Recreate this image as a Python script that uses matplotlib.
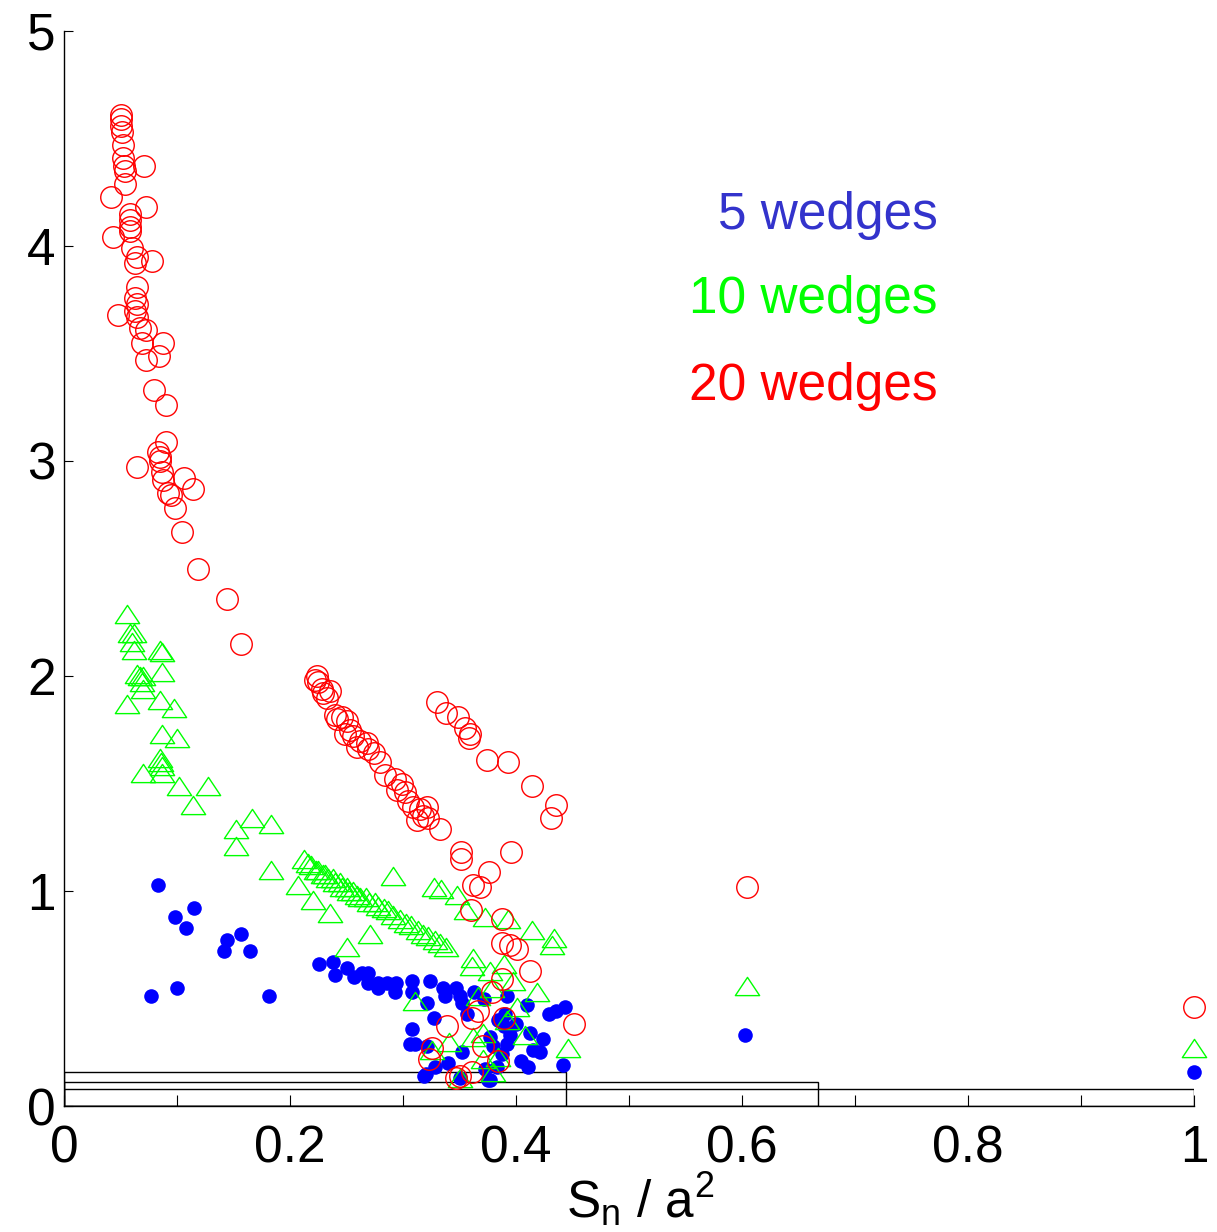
import numpy as np
import matplotlib
matplotlib.use("Agg")
import matplotlib.pyplot as plt
from matplotlib.path import Path

plt.rcParams['font.family'] = ['Liberation Sans', 'DejaVu Sans']
plt.rcParams['mathtext.fontset'] = 'custom'
plt.rcParams['mathtext.rm'] = 'Liberation Sans'
plt.rcParams['mathtext.it'] = 'Liberation Sans:italic'

# 5 wedges
x5 = [0.083, 0.098, 0.115, 0.108, 0.157, 0.144, 0.142, 0.165, 0.100, 0.077, 0.181,
      0.226, 0.238, 0.240, 0.250, 0.257, 0.264, 0.269, 0.269, 0.278, 0.278, 0.286,
      0.294, 0.293, 0.308, 0.308, 0.321, 0.324, 0.335, 0.337, 0.347, 0.350, 0.352,
      0.363, 0.357, 0.372, 0.327, 0.392, 0.390, 0.410, 0.308, 0.311, 0.306, 0.321,
      0.352, 0.340, 0.328, 0.319, 0.377, 0.380, 0.392, 0.395, 0.412, 0.424, 0.415,
      0.421, 0.404, 0.411, 0.429, 0.435, 0.442, 0.388, 0.383, 0.375, 0.350, 0.373,
      0.320, 0.377, 0.384, 0.389, 0.400, 0.443, 0.603, 1.000]
y5 = [1.03, 0.88, 0.92, 0.83, 0.80, 0.77, 0.72, 0.72, 0.55, 0.51, 0.51,
      0.66, 0.67, 0.61, 0.64, 0.60, 0.62, 0.62, 0.57, 0.57, 0.55, 0.57,
      0.57, 0.53, 0.58, 0.53, 0.48, 0.58, 0.55, 0.51, 0.55, 0.51, 0.48,
      0.53, 0.43, 0.50, 0.41, 0.51, 0.43, 0.47, 0.36, 0.29, 0.29, 0.28,
      0.25, 0.20, 0.18, 0.14, 0.32, 0.28, 0.29, 0.33, 0.34, 0.31, 0.26,
      0.25, 0.21, 0.18, 0.43, 0.44, 0.19, 0.24, 0.18, 0.12, 0.13, 0.17,
      0.15, 0.12, 0.40, 0.37, 0.38, 0.46, 0.33, 0.16]

# 10 wedges
x10 = [0.056, 0.058, 0.062, 0.060, 0.062, 0.085, 0.087, 0.087, 0.065, 0.067,
       0.070, 0.069, 0.070, 0.056, 0.085, 0.097, 0.087, 0.100, 0.085, 0.086,
       0.087, 0.070, 0.087, 0.102, 0.127, 0.114, 0.166, 0.152, 0.183, 0.152,
       0.183, 0.207, 0.220, 0.235, 0.250, 0.271, 0.291, 0.311,
       0.212, 0.216, 0.219, 0.223, 0.225, 0.229, 0.231, 0.234, 0.238, 0.240,
       0.244, 0.246, 0.250, 0.252, 0.256, 0.259, 0.262, 0.267, 0.270, 0.275,
       0.278, 0.283, 0.287, 0.291, 0.297, 0.303, 0.307, 0.313, 0.318, 0.322,
       0.328, 0.333, 0.338,
       0.327, 0.334, 0.348, 0.356, 0.373, 0.393, 0.414, 0.434, 0.432, 0.362,
       0.361, 0.377, 0.389, 0.397, 0.379, 0.419, 0.366, 0.401, 0.392, 0.371,
       0.408, 0.341, 0.326, 0.362, 0.371, 0.384, 0.446, 0.380, 0.350,
       0.604, 1.000]
y10 = [2.29, 2.20, 2.20, 2.16, 2.12, 2.12, 2.11, 2.02, 2.01, 2.00,
       2.00, 1.97, 1.94, 1.87, 1.89, 1.85, 1.73, 1.71, 1.62, 1.60,
       1.58, 1.55, 1.55, 1.49, 1.49, 1.40, 1.34, 1.29, 1.31, 1.21,
       1.10, 1.03, 0.96, 0.90, 0.74, 0.80, 1.07, 0.49,
       1.15, 1.13, 1.12, 1.10, 1.10, 1.08, 1.08, 1.06, 1.06, 1.04,
       1.04, 1.02, 1.02, 1.00, 1.00, 0.98, 0.97, 0.97, 0.95, 0.95,
       0.93, 0.92, 0.91, 0.89, 0.87, 0.85, 0.84, 0.82, 0.80, 0.79,
       0.77, 0.76, 0.74,
       1.02, 1.01, 0.98, 0.91, 0.88, 0.87, 0.82, 0.78, 0.75, 0.69,
       0.65, 0.63, 0.66, 0.58, 0.55, 0.53, 0.51, 0.46, 0.40, 0.34,
       0.33, 0.30, 0.26, 0.32, 0.22, 0.23, 0.27, 0.16, 0.13,
       0.56, 0.27]

# 20 wedges
x20 = [0.050, 0.050, 0.050, 0.051, 0.052, 0.052, 0.053, 0.054, 0.071, 0.054,
       0.042, 0.043, 0.058, 0.073, 0.058, 0.058, 0.058, 0.060, 0.065, 0.078,
       0.063, 0.065, 0.063, 0.065, 0.063, 0.048, 0.065, 0.067, 0.073, 0.069,
       0.088, 0.084, 0.073, 0.080, 0.090, 0.090, 0.083, 0.085, 0.085, 0.065,
       0.087, 0.088, 0.106, 0.114, 0.092, 0.095, 0.098, 0.104, 0.119, 0.144,
       0.157,
       0.224, 0.222, 0.225, 0.228, 0.229, 0.233, 0.235, 0.240, 0.242, 0.246,
       0.250, 0.253, 0.249, 0.256, 0.262, 0.259, 0.268, 0.269, 0.274, 0.280,
       0.284, 0.293, 0.299, 0.295, 0.302, 0.304, 0.309, 0.315, 0.321, 0.318,
       0.312, 0.322, 0.333,
       0.330, 0.338, 0.349, 0.355, 0.359, 0.358, 0.374, 0.393, 0.414, 0.435,
       0.431, 0.351, 0.351, 0.396, 0.376, 0.362, 0.368,
       0.360, 0.388, 0.388, 0.395, 0.401, 0.412, 0.388, 0.379, 0.366, 0.361,
       0.339, 0.451, 0.371, 0.384, 0.326, 0.323, 0.350, 0.347, 0.361, 0.389,
       0.604, 1.000]
y20 = [4.61, 4.59, 4.56, 4.53, 4.47, 4.41, 4.37, 4.35, 4.37, 4.29,
       4.23, 4.04, 4.15, 4.18, 4.12, 4.09, 4.07, 3.99, 3.95, 3.93,
       3.92, 3.81, 3.76, 3.73, 3.70, 3.68, 3.67, 3.62, 3.61, 3.55,
       3.55, 3.49, 3.47, 3.33, 3.26, 3.09, 3.04, 3.02, 3.00, 2.97,
       2.95, 2.91, 2.92, 2.87, 2.85, 2.84, 2.78, 2.67, 2.50, 2.36,
       2.15,
       2.00, 1.98, 1.97, 1.94, 1.92, 1.90, 1.93, 1.82, 1.80, 1.81,
       1.79, 1.75, 1.73, 1.72, 1.70, 1.67, 1.69, 1.66, 1.64, 1.60,
       1.54, 1.52, 1.50, 1.47, 1.46, 1.42, 1.39, 1.38, 1.39, 1.35,
       1.33, 1.34, 1.29,
       1.88, 1.83, 1.81, 1.76, 1.73, 1.71, 1.61, 1.60, 1.49, 1.40,
       1.34, 1.18, 1.15, 1.18, 1.09, 1.03, 1.02,
       0.91, 0.87, 0.76, 0.75, 0.73, 0.63, 0.59, 0.53, 0.44, 0.41,
       0.37, 0.38, 0.28, 0.21, 0.27, 0.22, 0.14, 0.13, 0.16, 0.41,
       1.02, 0.46]

# outline boxes along the bottom
box_w = [0.444, 0.667, 1.0]
box_h = [0.158, 0.112, 0.079]

labels = ['5 wedges', '10 wedges', '20 wedges']
colors = ['#3333cc', '#00ff00', '#ff0000']

fig = plt.figure(figsize=(12.17, 12.32), dpi=100)
ax = fig.add_axes([64 / 1217, 126 / 1232, 1130 / 1217, 1075 / 1232])

# flat triangle like the MATLAB marker
tri = Path([(0, 0.75), (-1, -0.75), (1, -0.75), (0, 0.75)],
           [Path.MOVETO, Path.LINETO, Path.LINETO, Path.CLOSEPOLY])

ax.bar(np.zeros(3), box_h, width=box_w, align='edge', facecolor='none',
       edgecolor='black', linewidth=1.0, zorder=1)

ax.plot(x5, y5, 'o', color='#0000ff', markersize=10.5, markeredgewidth=0,
        clip_on=False, zorder=2)
ax.plot(x10, y10, linestyle='none', marker=tri, markersize=17.5,
        markerfacecolor='none', markeredgecolor='#00ff00', markeredgewidth=1.0,
        clip_on=False, zorder=3)
ax.plot(x20, y20, 'o', markersize=15.5, markerfacecolor='none',
        markeredgecolor='#ff0000', markeredgewidth=1.0, clip_on=False, zorder=4)

for lab, c, yb in zip(labels, colors, [4.079, 3.688, 3.284]):
    ax.text(0.773, yb, lab, color=c, fontsize=37, ha='right', va='baseline')

ax.set_xlim(0, 1)
ax.set_ylim(0, 5)
ax.set_xticks(np.arange(0, 1.01, 0.1))
ax.set_xticklabels(['0', '', '0.2', '', '0.4', '', '0.6', '', '0.8', '', '1'])
ax.set_yticks([0, 1, 2, 3, 4, 5])
ax.set_yticklabels(['0', '1', '2', '3', '4', '5'])
ax.tick_params(axis='x', direction='in', length=8, width=0.8, pad=13, labelsize=37)
ax.tick_params(axis='y', direction='in', length=6.5, width=0.8, pad=6, labelsize=37)

for s in ['top', 'right']:
    ax.spines[s].set_visible(False)
for s in ['left', 'bottom']:
    ax.spines[s].set_linewidth(1.0)

fig.text(0.526, 0.011, r'$\mathrm{S_n\ /\ a^2}$', fontsize=37,
         ha='center', va='baseline')

fig.savefig('out.png', dpi=100)
